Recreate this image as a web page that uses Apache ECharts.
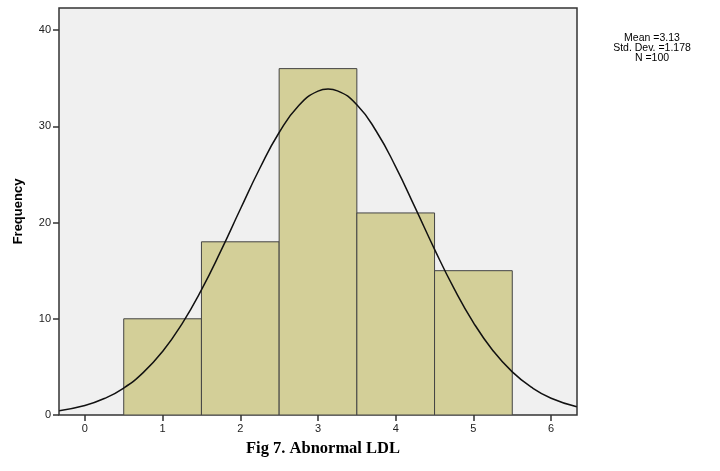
<!DOCTYPE html>
<html><head><meta charset="utf-8">
<script src="https://cdn.jsdelivr.net/npm/echarts@6/dist/echarts.min.js"></script>
<style>html,body{margin:0;padding:0;background:#fff}#c{width:720px;height:471px}</style>
</head><body><div id="c"></div>
<script>
// Histogram bins
const binStart = [0.5, 1.5, 2.5, 3.5, 4.5];
const binEnd   = [1.5, 2.5, 3.5, 4.5, 5.5];
const counts   = [10, 18, 36, 21, 15];
// Fitted normal curve
const curveX = [-0.33,0,0.25,0.5,0.75,1,1.25,1.5,1.75,2,2.25,2.5,2.75,3,3.13,3.25,3.5,3.75,4,4.25,4.5,4.75,5,5.25,5.5,5.75,6,6.33];
const curveY = [0.45,0.99,1.71,2.80,4.40,6.60,9.48,13.0,17.05,21.38,25.62,29.36,32.15,33.66,33.87,33.69,32.24,29.49,25.79,21.55,17.22,13.16,9.61,6.71,4.48,2.86,1.74,0.85];
// Ticks
const xTicks = [0,1,2,3,4,5,6];
const yTicks = [0,10,20,30,40];
const statsLines = ['Mean =3.13','Std. Dev. =1.178','N =100'];
const titleText = 'Fig 7. Abnormal LDL';
const yName = 'Frequency';

const chart = echarts.init(document.getElementById('c'), null, {renderer:'canvas'});
const barData = binStart.map((s,i)=>[s, binEnd[i], counts[i]]);
const lineData = curveX.map((x,i)=>[x, curveY[i]]);
const labelFont = {fontFamily:'Liberation Sans, Arial, sans-serif', fontSize:11, color:'#222'};
chart.setOption({
  animation:false,
  backgroundColor:'#fff',
  title:{text:titleText, left:318, top:435, textAlign:'center',
    textStyle:{fontFamily:'Liberation Serif, Times New Roman, serif', fontWeight:'bold', fontSize:16.5, color:'#000'}},
  graphic:[{type:'text', x:652, y:33,
    style:{text:statsLines.join('\n'), textAlign:'center', font:'10.5px Liberation Sans, Arial, sans-serif', fill:'#000', lineHeight:10}}],
  grid:{left:59, right:143, top:8, bottom:56, show:true, backgroundColor:'#f0f0f0', borderColor:'#333', borderWidth:1.5},
  xAxis:{type:'value', min:-0.333, max:6.333,
    axisLine:{show:false, onZero:false}, splitLine:{show:false},
    axisTick:{show:true, length:6, customValues:xTicks, lineStyle:{color:'#333', width:1.5}},
    axisLabel:{customValues:xTicks, margin:8, ...labelFont}},
  yAxis:{type:'value', min:0, max:42.3, name:yName, nameLocation:'middle', nameGap:34, nameRotate:90,
    nameTextStyle:{fontFamily:'Liberation Sans, Arial, sans-serif', fontWeight:'bold', fontSize:13, color:'#000'},
    axisLine:{show:false, onZero:false}, splitLine:{show:false},
    axisTick:{show:true, length:6, customValues:yTicks, lineStyle:{color:'#333', width:1.5}},
    axisLabel:{customValues:yTicks, margin:8, ...labelFont}},
  series:[
    {type:'custom', data:barData, encode:{x:[0,1], y:2}, clip:true,
     renderItem:function(params, api){
       const p0 = api.coord([api.value(0), api.value(2)]);
       const p1 = api.coord([api.value(1), 0]);
       return {type:'rect', shape:{x:p0[0], y:p0[1], width:p1[0]-p0[0], height:p1[1]-p0[1]},
         style:{fill:'#d3cf98', stroke:'#444', lineWidth:1}};
     }, z:2},
    {type:'line', data:lineData, smooth:true, showSymbol:false, symbol:'none',
     lineStyle:{color:'#111', width:1.5}, z:3, silent:true}
  ]
});
</script></body></html>
